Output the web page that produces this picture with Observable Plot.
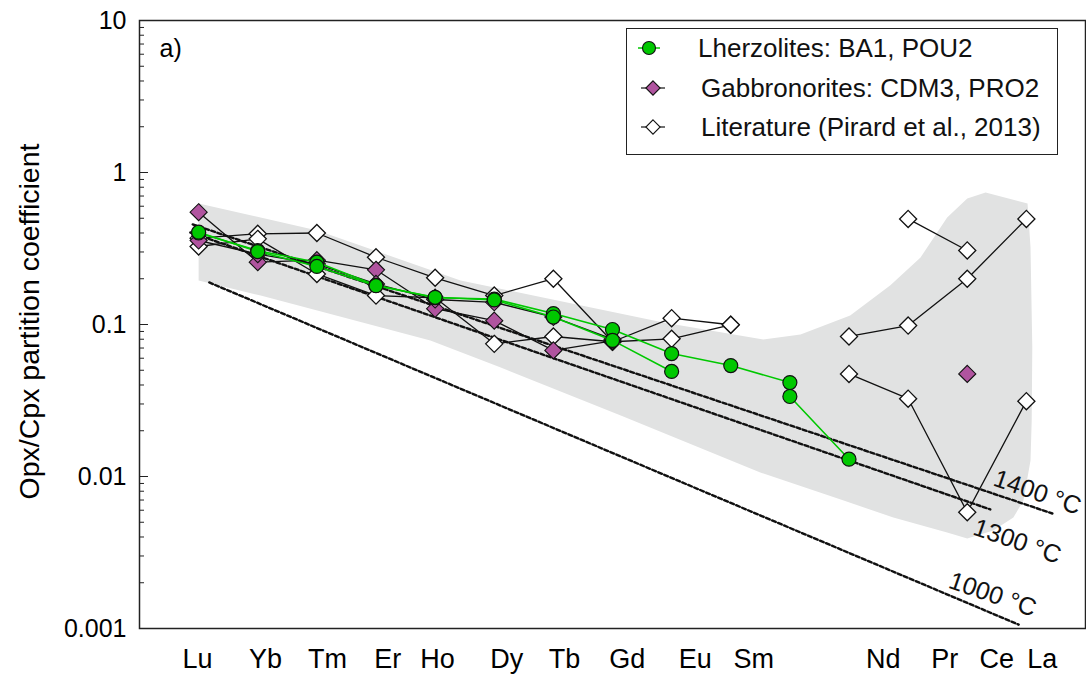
<!DOCTYPE html>
<html>
<head>
<meta charset="utf-8">
<script src="https://cdn.jsdelivr.net/npm/d3@7"></script>
<script src="https://cdn.jsdelivr.net/npm/@observablehq/plot@0.6"></script>
<style>
  body { margin: 0; background: #fff; font-family: "Liberation Sans", Arial, sans-serif; }
  #wrap { position: relative; width: 1086px; height: 676px; }
  #legend { position: absolute; left: 626px; top: 28px; width: 432px; height: 127px; box-sizing: border-box;
            border: 1.5px solid #222; background: #fff; }
  #legend svg { position: absolute; left: 0; top: 0; }
  .entry { position: absolute; font-size: 26px; color: #111; white-space: nowrap; transform: translateY(-50%); line-height: 1; }
</style>
</head>
<body>
<div id="wrap"></div>
<script>
// Rare earth elements, heaviest first; one step per element along x (Pm has no label)
const elements = ["Lu", "Yb", "Tm", "Er", "Ho", "Dy", "Tb", "Gd", "Eu", "Sm", "Pm", "Nd", "Pr", "Ce", "La"];

// Opx/Cpx partition coefficients, one value per element (null = not measured)
const lherzoliteBA1  = [0.40, 0.306, 0.257, 0.181, 0.150, 0.147, 0.118, 0.0927, 0.0644, 0.0537, 0.0415, null, null, null, null];
const lherzolitePOU2 = [0.405, 0.302, 0.241, 0.180, 0.151, 0.145, 0.112, 0.0786, 0.0491, null, 0.0336, 0.013, null, null, null];

const gabbronoriteCDM3 = [0.548, 0.257, 0.265, 0.229, 0.127, 0.106, 0.0675, 0.078, null, null, null, null, null, 0.0473, null];
const gabbronoritePRO2 = [0.357, 0.29, 0.25, 0.185, 0.146, 0.14, 0.112, 0.08, null, null, null, null, null, null, null];

const literature1 = [0.37, 0.395, 0.40, 0.277, 0.203, 0.155, 0.200, 0.077, 0.110, 0.0996, null, null, null, null, null];
const literature2 = [0.326, 0.366, 0.215, 0.155, 0.150, 0.0746, 0.0834, 0.077, 0.0805, 0.0996, null, null, null, null, null];
const literature3 = [null, null, null, null, null, null, null, null, null, null, null, 0.0834, 0.0984, 0.200, 0.495];
const literature4 = [null, null, null, null, null, null, null, null, null, null, null, null, 0.495, 0.307, null];
const literature5 = [null, null, null, null, null, null, null, null, null, null, null, 0.0473, 0.0325, 0.00582, 0.0313];

// Grey envelope of published values: upper edge left to right, then lower edge right to left
const envelopeTop = [[0, 0.625], [2.01, 0.415], [4.43, 0.195], [7.86, 0.103], [9.55, 0.0796], [10.18, 0.0859],
  [11.02, 0.1146], [11.70, 0.181], [12.21, 0.276], [12.66, 0.506], [13.0, 0.675], [13.31, 0.738], [14.02, 0.625]];
const envelopeBottom = [[14.07, 0.321], [14.10, 0.0706], [14.09, 0.0233], [14.07, 0.01274], [13.95, 0.00695],
  [13.78, 0.00537], [13.44, 0.00442], [13.0, 0.00391], [12.66, 0.00428], [11.75, 0.00537], [10.91, 0.00695],
  [9.50, 0.01062], [7.14, 0.0252], [5.11, 0.0521], [3.92, 0.0785], [1.05, 0.155], [0, 0.195]];

// Model partitioning at fixed temperature: start and end of each line
const isothermNames = ["1400 °C", "1300 °C", "1000 °C"];
const isothermStart = [[-0.10, 0.455], [-0.14, 0.403], [0.18, 0.189]];
const isothermEnd   = [[14.44, 0.00571], [13.39, 0.00607], [13.87, 0.00106]];

// Axis labels and where they sit along x
const axisLabels  = ["Lu", "Yb", "Tm", "Er", "Ho", "Dy", "Tb", "Gd", "Eu", "Sm", "Nd", "Pr", "Ce", "La"];
const axisLabelAt = [-0.02, 1.13, 2.18, 3.2, 4.04, 5.21, 6.19, 7.25, 8.4, 9.39, 11.58, 12.62, 13.5, 14.27];
const yTicks      = [0.001, 0.01, 0.1, 1, 10];
const yTickLabels = ["0.001", "0.01", "0.1", "1", "10"];

const legendLabels = ["Lherzolites: BA1, POU2", "Gabbronorites: CDM3, PRO2", "Literature (Pirard et al., 2013)"];

const GREEN = "#00c800";
const MAGENTA = "#b0549f";
const INK = "#111";

function rows(values, series) {
  return values.map((v, i) => ({element: elements[i], x: i, y: v, series}));
}
const lherzRows = [...rows(lherzoliteBA1, "BA1"), ...rows(lherzolitePOU2, "POU2")];
const gabbroRows = [...rows(gabbronoriteCDM3, "CDM3"), ...rows(gabbronoritePRO2, "PRO2")];
const litRows = [literature1, literature2, literature3, literature4, literature5]
  .flatMap((s, k) => rows(s, "lit" + k));

const envelope = [...envelopeTop, ...envelopeBottom];
const isoRows = isothermNames.flatMap((name, i) => [
  {name, x: isothermStart[i][0], y: isothermStart[i][1]},
  {name, x: isothermEnd[i][0], y: isothermEnd[i][1]}
]);
const isoEnd = isothermNames.map((name, i) => ({name, x: isothermEnd[i][0], y: isothermEnd[i][1]}));

const yMinor = [];
for (const decade of [0.001, 0.01, 0.1, 1]) for (let k = 2; k <= 9; ++k) yMinor.push(+(decade * k).toPrecision(3));

const font = '"Liberation Sans", Arial, sans-serif';
const isoLabel = (name, dx, dy) => Plot.text(isoEnd.filter(d => d.name === name),
  {x: "x", y: "y", text: "name", rotate: 19, dx, dy, fontSize: 25, fill: INK});

const chart = Plot.plot({
  width: 1086,
  height: 676,
  marginLeft: 139,
  marginRight: 1,
  marginTop: 20,
  marginBottom: 48,
  style: {fontFamily: font, background: "white", color: "#000", overflow: "visible"},
  x: {domain: [-1, 15]},
  y: {type: "log", domain: [0.001, 10]},
  marks: [
    // envelope
    Plot.line(envelope, {x: d => d[0], y: d => d[1], fill: "#e1e2e2", stroke: "none"}),
    // isotherms
    Plot.line(isoRows, {x: "x", y: "y", z: "name", stroke: INK, strokeWidth: 2.4, strokeDasharray: "4,2.5"}),
    isoLabel("1400 °C", -15, -21),
    isoLabel("1300 °C", 27, 32),
    isoLabel("1000 °C", -26, -30),
    // literature
    Plot.line(litRows, {x: "x", y: "y", z: "series", stroke: INK, strokeWidth: 1.3}),
    Plot.dot(litRows, {x: "x", y: "y", symbol: "diamond2", r: 7.7, fill: "white", stroke: INK, strokeWidth: 1.3}),
    // gabbronorites
    Plot.line(gabbroRows, {x: "x", y: "y", z: "series", stroke: INK, strokeWidth: 1.3}),
    Plot.dot(gabbroRows, {x: "x", y: "y", symbol: "diamond2", r: 7.7, fill: MAGENTA, stroke: INK, strokeWidth: 1.1}),
    // lherzolites
    Plot.line(lherzRows, {x: "x", y: "y", z: "series", stroke: GREEN, strokeWidth: 1.6}),
    Plot.dot(lherzRows, {x: "x", y: "y", r: 7, fill: GREEN, stroke: INK, strokeWidth: 1.2}),
    // axes
    Plot.axisY(yTicks, {anchor: "left", tickSize: 9, dx: 9, fill: "none", stroke: "#222", label: null}),
    Plot.axisY(yMinor, {anchor: "left", tickSize: 5, dx: 5, fill: "none", stroke: "#222", label: null}),
    Plot.axisY(yTicks, {anchor: "left", tickSize: 0, tickPadding: 13, fontSize: 25, label: null,
      tickFormat: d => yTickLabels[yTicks.indexOf(d)]}),
    Plot.axisX(axisLabelAt, {anchor: "bottom", tickSize: 0, tickPadding: 20, fontSize: 27, label: null,
      tickFormat: d => axisLabels[axisLabelAt.indexOf(d)]}),
    Plot.text(["Opx/Cpx partition coefficient"], {frameAnchor: "left", rotate: -90, dx: -110, dy: -3, fontSize: 28.5,
      textAnchor: "middle", lineAnchor: "middle", fill: "#000"}),
    Plot.text(["a)"], {frameAnchor: "top-left", dx: 20, dy: 28, fontSize: 25, textAnchor: "start", lineAnchor: "middle", fill: "#000"}),
    Plot.frame({stroke: "#222", strokeWidth: 1.5})
  ]
});

const wrap = document.getElementById("wrap");
wrap.appendChild(chart);

// legend inside the plot frame
const legend = document.createElement("div");
legend.id = "legend";
wrap.appendChild(legend);
const rowY = [19, 59, 98];
const svg = d3.select(legend).append("svg").attr("width", 80).attr("height", 125);
// lherzolites
svg.append("line").attr("x1", 11).attr("x2", 33).attr("y1", rowY[0]).attr("y2", rowY[0]).attr("stroke", GREEN).attr("stroke-width", 1.5);
svg.append("circle").attr("cx", 22).attr("cy", rowY[0]).attr("r", 6.5).attr("fill", GREEN).attr("stroke", INK).attr("stroke-width", 1.1);
// gabbronorites and literature
[[MAGENTA, rowY[1]], ["white", rowY[2]]].forEach(([fill, y]) => {
  svg.append("line").attr("x1", 14).attr("x2", 38).attr("y1", y).attr("y2", y).attr("stroke", INK).attr("stroke-width", 1.2);
  svg.append("path").attr("d", d3.symbol(d3.symbolDiamond2, 130)()).attr("transform", `translate(26,${y})`)
    .attr("fill", fill).attr("stroke", INK).attr("stroke-width", 1.1);
});
legendLabels.forEach((label, i) => {
  const div = document.createElement("div");
  div.className = "entry";
  div.style.left = (i === 0 ? 71 : 74) + "px";
  div.style.top = rowY[i] + "px";
  div.textContent = label;
  legend.appendChild(div);
});
</script>
</body>
</html>
